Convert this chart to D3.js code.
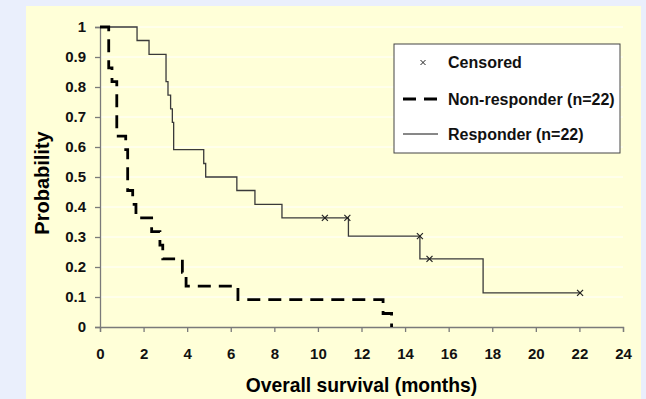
<!DOCTYPE html>
<html>
<head>
<meta charset="utf-8">
<script src="https://cdn.jsdelivr.net/npm/d3@7"></script>
<style>
  html, body { margin: 0; padding: 0; background: #eaeffc; }
</style>
</head>
<body>
<div id="chart"></div>
<script>
// survival steps
const responderTime = [0, 1.70, 2.25, 3.03, 3.12, 3.24, 3.32, 3.38, 4.76, 4.85, 6.28, 7.11, 8.35, 11.40, 14.68, 17.58, 22.03];
const responderSurv = [1, 0.955, 0.909, 0.818, 0.773, 0.727, 0.682, 0.591, 0.545, 0.500, 0.455, 0.409, 0.364, 0.303, 0.227, 0.114, 0.114];
const censorTime = [10.32, 11.35, 14.68, 15.12, 22.03];
const censorSurv = [0.364, 0.364, 0.303, 0.227, 0.114];

const nonRespTime = [0, 0.40, 0.55, 0.77, 1.18, 1.27, 1.50, 1.65, 2.37, 2.75, 2.88, 3.78, 3.95, 6.33, 12.99, 13.38];
const nonRespSurv = [1, 0.864, 0.818, 0.636, 0.591, 0.455, 0.409, 0.364, 0.318, 0.273, 0.227, 0.182, 0.136, 0.091, 0.045, 0];

const xTicks = [0, 2, 4, 6, 8, 10, 12, 14, 16, 18, 20, 22, 24];
const yTicks = [0, 0.1, 0.2, 0.3, 0.4, 0.5, 0.6, 0.7, 0.8, 0.9, 1];
const legendLabels = ["Censored", "Non-responder (n=22)", "Responder (n=22)"];

const width = 646, height = 399;
const font = "'Liberation Sans', Arial, sans-serif";

const svg = d3.select("#chart").append("svg")
    .attr("width", width).attr("height", height)
    .style("font-family", font)
    .style("display", "block");

svg.append("rect").attr("width", width).attr("height", height).attr("fill", "#eaeffc");
// chart area
svg.append("rect")
    .attr("x", 26).attr("y", 6).attr("width", 615).attr("height", 400)
    .attr("fill", "#ffffd8");

const x = d3.scaleLinear().domain([0, 24]).range([100, 623]);
const y = d3.scaleLinear().domain([0, 1]).range([327, 27]);

// grid lines
svg.append("g").selectAll("line")
    .data(yTicks.filter(d => d > 0))
    .join("line")
    .attr("x1", x(0)).attr("x2", x(24))
    .attr("y1", d => y(d)).attr("y2", d => y(d))
    .attr("stroke", "#ffffff").attr("stroke-width", 1);

// axes
const xAxis = svg.append("g")
    .attr("transform", `translate(0,${y(0)})`)
    .call(d3.axisBottom(x).tickValues(xTicks).tickSize(5).tickPadding(16).tickFormat(d3.format("d")));
const yAxis = svg.append("g")
    .attr("transform", `translate(${x(0)},0)`)
    .call(d3.axisLeft(y).tickValues(yTicks).tickSize(5).tickPadding(9).tickFormat(d => d === 0 || d === 1 ? d3.format("d")(d) : d3.format(".1f")(d)));

[xAxis, yAxis].forEach(a => {
    a.select(".domain").attr("stroke", "#7a7a7a").attr("stroke-width", 1.3);
    a.selectAll(".tick line").attr("stroke", "#7a7a7a").attr("stroke-width", 1.3);
    a.selectAll(".tick text")
        .attr("fill", "#111")
        .style("font-family", font)
        .style("font-size", "15px")
        .style("font-weight", "bold");
});

// axis titles
svg.append("text")
    .attr("x", (x(0) + x(24)) / 2).attr("y", 392)
    .attr("text-anchor", "middle")
    .style("font-size", "19.3px").style("font-weight", "bold")
    .text("Overall survival (months)");

svg.append("text")
    .attr("transform", `translate(49,${183}) rotate(-90)`)
    .attr("text-anchor", "middle")
    .style("font-size", "20px").style("font-weight", "bold")
    .text("Probability");

const line = d3.line()
    .x(d => x(d[0])).y(d => y(d[1]))
    .curve(d3.curveStepAfter);

const responder = d3.zip(responderTime, responderSurv);
const nonResp = d3.zip(nonRespTime, nonRespSurv);

svg.append("path")
    .attr("d", line(responder))
    .attr("fill", "none")
    .attr("stroke", "#3a3a3a")
    .attr("stroke-width", 1.3);

svg.append("path")
    .attr("d", line(nonResp))
    .attr("fill", "none")
    .attr("stroke", "#000")
    .attr("stroke-width", 2.8)
    .attr("stroke-dasharray", "13,8");

// censor marks
const cross = (g, size) => {
    g.append("line").attr("x1", -size).attr("y1", -size).attr("x2", size).attr("y2", size);
    g.append("line").attr("x1", -size).attr("y1", size).attr("x2", size).attr("y2", -size);
};
svg.append("g").selectAll("g")
    .data(d3.zip(censorTime, censorSurv))
    .join("g")
    .attr("transform", d => `translate(${x(d[0])},${y(d[1])})`)
    .attr("stroke", "#222").attr("stroke-width", 1.2)
    .each(function() { cross(d3.select(this), 3); });

// legend
const lg = svg.append("g").attr("transform", "translate(394,44)");
lg.append("rect")
    .attr("width", 226).attr("height", 109)
    .attr("fill", "#ffffff").attr("stroke", "#444").attr("stroke-width", 1);

const rowY = [18.5, 55, 90];
lg.selectAll("text.lab")
    .data(legendLabels)
    .join("text")
    .attr("class", "lab")
    .attr("x", 54).attr("y", (d, i) => rowY[i])
    .attr("dy", "0.35em")
    .style("font-size", "16px").style("font-weight", "bold")
    .attr("fill", "#111")
    .text(d => d);

const cm = lg.append("g").attr("transform", `translate(29,${rowY[0]})`)
    .attr("stroke", "#222").attr("stroke-width", 1);
cross(cm, 2.5);

lg.append("line")
    .attr("x1", 9).attr("x2", 44).attr("y1", rowY[1]).attr("y2", rowY[1])
    .attr("stroke", "#000").attr("stroke-width", 2.8)
    .attr("stroke-dasharray", "13,8");
lg.append("line")
    .attr("x1", 9).attr("x2", 44).attr("y1", rowY[2]).attr("y2", rowY[2])
    .attr("stroke", "#111").attr("stroke-width", 1);
</script>
</body>
</html>
